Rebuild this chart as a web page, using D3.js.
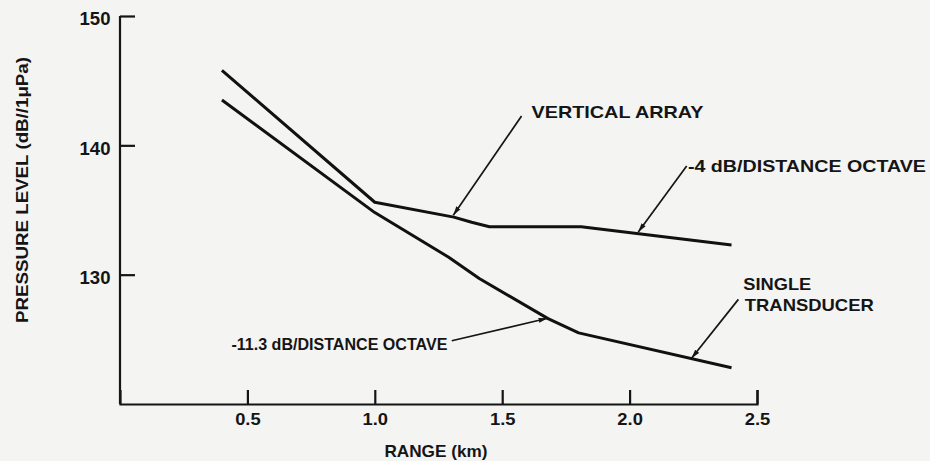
<!DOCTYPE html>
<html>
<head>
<meta charset="utf-8">
<script src="https://cdn.jsdelivr.net/npm/d3@7"></script>
<style>
  html, body { margin: 0; padding: 0; background: #f4f4f3; }
  svg { display: block; }
  text { font-family: "Liberation Sans", Arial, Helvetica, sans-serif; font-weight: bold; fill: #151515; }
</style>
</head>
<body>
<div id="chart"></div>
<script>
// values (range in km, level in dB re 1 uPa)
var verticalRange = [0.4, 1.0, 1.31, 1.38, 1.45, 1.81, 2.4];
var verticalLevel = [145.8, 135.6, 134.45, 134.05, 133.7, 133.7, 132.3];
var singleRange = [0.4, 1.0, 1.29, 1.41, 1.68, 1.8, 2.4];
var singleLevel = [143.5, 134.8, 131.35, 129.7, 126.6, 125.5, 122.8];

var xTicks = [0.5, 1.0, 1.5, 2.0, 2.5];
var yTicks = [130, 140, 150];
var xTitle = "RANGE (km)";
var yTitle = "PRESSURE LEVEL (dB//1\u03bcPa)";

var width = 930, height = 461;

var svg = d3.select("#chart").append("svg")
    .attr("width", width)
    .attr("height", height);

svg.append("rect").attr("width", width).attr("height", height).attr("fill", "#f4f4f3");

var x = d3.scaleLinear().domain([0, 2.5]).range([120, 757]);
var y = d3.scaleLinear().domain([120, 150]).range([404, 16]);

// arrow head
svg.append("defs").append("marker")
    .attr("id", "head")
    .attr("markerUnits", "userSpaceOnUse")
    .attr("viewBox", "0 -3 9 6")
    .attr("refX", 9).attr("refY", 0)
    .attr("markerWidth", 9).attr("markerHeight", 6)
    .attr("orient", "auto")
  .append("path")
    .attr("d", "M0,-2.5L9,0L0,2.5Z")
    .attr("fill", "#151515");

// axes, ticks pointing inward
var xAxis = d3.axisBottom(x).tickValues(xTicks).tickFormat(d3.format(".1f"))
    .tickSizeInner(-14).tickSizeOuter(-14).tickPadding(9);
var yAxis = d3.axisLeft(y).tickValues(yTicks).tickFormat(d3.format("d"))
    .tickSizeInner(-15).tickSizeOuter(0).tickPadding(9);

var gx = svg.append("g").attr("transform", "translate(0," + y(120) + ")").call(xAxis);
var gy = svg.append("g").attr("transform", "translate(" + x(0) + ",0)").call(yAxis);

[gx, gy].forEach(function (g) {
    g.selectAll("path, line").attr("stroke", "#151515").attr("stroke-width", 2.2);
    g.selectAll("text").attr("font-family", null).attr("fill", "#151515");
});
gx.selectAll("text").attr("font-size", 17).attr("transform", "scale(1.08,1)");
gy.selectAll("text").attr("font-size", 17.5).attr("dy", "0.5em").attr("transform", "scale(1.06,1)");
gy.select(".domain").attr("d", "M0," + y(120) + "V" + y(150));

// data lines
var line = d3.line()
    .x(function (d) { return x(d[0]); })
    .y(function (d) { return y(d[1]); });

var series = [d3.zip(verticalRange, verticalLevel), d3.zip(singleRange, singleLevel)];
svg.selectAll(".curve")
    .data(series)
    .enter().append("path")
    .attr("class", "curve")
    .attr("d", line)
    .attr("fill", "none")
    .attr("stroke", "#111")
    .attr("stroke-width", 3)
    .attr("stroke-linejoin", "round");

// labels stretched to the width they take in the figure
function label(px, py, str, len, anchor, size) {
    return svg.append("text")
        .attr("x", px).attr("y", py)
        .attr("font-size", size || 17)
        .attr("text-anchor", anchor || "start")
        .attr("textLength", len)
        .attr("lengthAdjust", "spacingAndGlyphs")
        .text(str);
}

function arrow(from, to) {
    svg.append("line")
        .attr("x1", x(from[0])).attr("y1", y(from[1]))
        .attr("x2", x(to[0])).attr("y2", y(to[1]))
        .attr("stroke", "#151515")
        .attr("stroke-width", 1.7)
        .attr("marker-end", "url(#head)");
}

label(x(1.615), y(142.1), "VERTICAL ARRAY", 172);
arrow([1.576, 142.27], [1.308, 134.6]);

label(x(2.229), y(137.94), "-4 dB/DISTANCE OCTAVE", 238);
arrow([2.224, 138.4], [2.034, 133.3]);

label(x(2.446), y(128.81), "SINGLE", 68);
label(x(2.452), y(127.2), "TRANSDUCER", 129);
arrow([2.427, 128.09], [2.243, 123.53]);

label(x(1.285), y(124.16), "-11.3 dB/DISTANCE OCTAVE", 216, "end", 16.5);
arrow([1.302, 124.89], [1.678, 126.63]);

// axis titles
label(x(1.24), 457, xTitle, 103, "middle");
svg.append("text")
    .attr("transform", "translate(28,190) rotate(-90)")
    .attr("font-size", 17)
    .attr("text-anchor", "middle")
    .attr("textLength", 266)
    .attr("lengthAdjust", "spacingAndGlyphs")
    .text(yTitle);
</script>
</body>
</html>
